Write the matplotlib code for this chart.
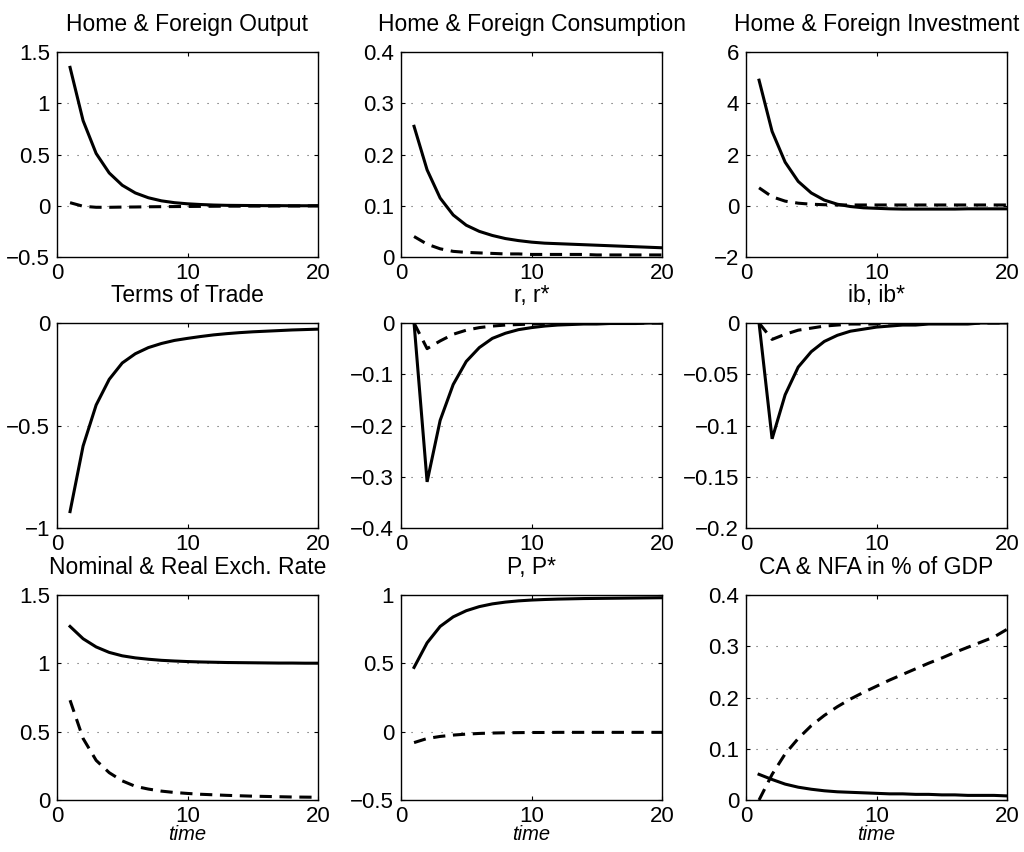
import matplotlib
matplotlib.use("Agg")
import matplotlib.pyplot as plt
import numpy as np

plt.rcParams['font.family'] = ['Liberation Sans', 'DejaVu Sans']

t = list(range(1, 21))

titles = ["Home & Foreign Output", "Home & Foreign Consumption", "Home & Foreign Investment",
          "Terms of Trade", "r, r*", "ib, ib*",
          "Nominal & Real Exch. Rate", "P, P*", "CA & NFA in % of GDP"]

output_home = [1.35, 0.83, 0.51, 0.32, 0.20, 0.125, 0.078, 0.048, 0.030, 0.019,
               0.012, 0.007, 0.004, 0.003, 0.002, 0.001, 0.001, 0.0, 0.0, 0.0]
output_foreign = [0.03, -0.005, -0.015, -0.015, -0.013, -0.012, -0.010, -0.009, -0.008, -0.007,
                  -0.006, -0.005, -0.004, -0.004, -0.003, -0.003, -0.002, -0.002, -0.002, -0.001]

cons_home = [0.255, 0.17, 0.115, 0.082, 0.062, 0.050, 0.042, 0.036, 0.032, 0.029,
             0.027, 0.026, 0.025, 0.024, 0.023, 0.022, 0.021, 0.020, 0.019, 0.018]
cons_foreign = [0.040, 0.025, 0.016, 0.011, 0.009, 0.008, 0.007, 0.006, 0.006, 0.005,
                0.005, 0.005, 0.005, 0.005, 0.004, 0.004, 0.004, 0.004, 0.004, 0.004]

inv_home = [4.9, 2.9, 1.7, 0.95, 0.5, 0.22, 0.06, -0.03, -0.08, -0.10,
            -0.12, -0.13, -0.13, -0.13, -0.13, -0.13, -0.12, -0.12, -0.12, -0.12]
inv_foreign = [0.70, 0.35, 0.18, 0.10, 0.06, 0.04, 0.03, 0.03, 0.03, 0.03,
               0.03, 0.03, 0.03, 0.03, 0.03, 0.03, 0.03, 0.03, 0.03, 0.03]

tot = [-0.92, -0.60, -0.40, -0.275, -0.195, -0.15, -0.12, -0.10, -0.085, -0.075,
       -0.066, -0.058, -0.052, -0.047, -0.043, -0.040, -0.037, -0.034, -0.032, -0.030]

r_home = [0.0, -0.31, -0.19, -0.12, -0.075, -0.048, -0.030, -0.020, -0.013, -0.009,
          -0.006, -0.004, -0.003, -0.002, -0.002, -0.001, -0.001, -0.001, 0.0, 0.0]
r_foreign = [0.0, -0.050, -0.035, -0.022, -0.014, -0.009, -0.006, -0.004, -0.003, -0.002,
             -0.001, -0.001, -0.001, 0.0, 0.0, 0.0, 0.0, 0.0, 0.0, 0.0]

ib_home = [0.0, -0.113, -0.070, -0.043, -0.028, -0.018, -0.012, -0.008, -0.006, -0.004,
           -0.003, -0.002, -0.002, -0.001, -0.001, -0.001, -0.001, 0.0, 0.0, 0.0]
ib_foreign = [0.0, -0.016, -0.011, -0.007, -0.005, -0.003, -0.002, -0.001, -0.001, -0.001,
              0.0, 0.0, 0.0, 0.0, 0.0, 0.0, 0.0, 0.0, 0.0, 0.0]

nom_exch = [1.27, 1.18, 1.12, 1.08, 1.055, 1.04, 1.03, 1.022, 1.017, 1.013,
            1.010, 1.008, 1.006, 1.005, 1.004, 1.003, 1.002, 1.002, 1.001, 1.001]
real_exch = [0.73, 0.45, 0.29, 0.20, 0.14, 0.10, 0.08, 0.065, 0.055, 0.048,
             0.042, 0.038, 0.034, 0.031, 0.028, 0.026, 0.024, 0.022, 0.021, 0.020]

p_home = [0.47, 0.65, 0.77, 0.84, 0.885, 0.915, 0.935, 0.948, 0.957, 0.963,
          0.967, 0.970, 0.972, 0.974, 0.975, 0.976, 0.977, 0.978, 0.979, 0.980]
p_foreign = [-0.08, -0.05, -0.035, -0.025, -0.018, -0.013, -0.010, -0.008, -0.007, -0.006,
             -0.006, -0.005, -0.005, -0.005, -0.005, -0.005, -0.005, -0.005, -0.005, -0.005]

ca = [0.050, 0.040, 0.031, 0.025, 0.021, 0.018, 0.016, 0.015, 0.014, 0.013,
      0.012, 0.012, 0.011, 0.011, 0.010, 0.010, 0.009, 0.009, 0.009, 0.008]
nfa = [0.0, 0.05, 0.09, 0.12, 0.145, 0.165, 0.182, 0.197, 0.210, 0.222,
       0.234, 0.245, 0.256, 0.267, 0.277, 0.288, 0.298, 0.308, 0.318, 0.333]

solid_series = [output_home, cons_home, inv_home, tot, r_home, ib_home, nom_exch, p_home, ca]
dashed_series = [output_foreign, cons_foreign, inv_foreign, None, r_foreign, ib_foreign, real_exch, p_foreign, nfa]

ylims = [(-0.5, 1.5), (0, 0.4), (-2, 6), (-1, 0), (-0.4, 0), (-0.2, 0), (0, 1.5), (-0.5, 1), (0, 0.4)]
yticks = [[-0.5, 0, 0.5, 1, 1.5], [0, 0.1, 0.2, 0.3, 0.4], [-2, 0, 2, 4, 6],
          [-1, -0.5, 0], [-0.4, -0.3, -0.2, -0.1, 0], [-0.2, -0.15, -0.1, -0.05, 0],
          [0, 0.5, 1, 1.5], [-0.5, 0, 0.5, 1], [0, 0.1, 0.2, 0.3, 0.4]]
ytlabels = [["\u22120.5", "0", "0.5", "1", "1.5"], ["0", "0.1", "0.2", "0.3", "0.4"],
            ["\u22122", "0", "2", "4", "6"], ["\u22121", "\u22120.5", "0"],
            ["\u22120.4", "\u22120.3", "\u22120.2", "\u22120.1", "0"],
            ["\u22120.2", "\u22120.15", "\u22120.1", "\u22120.05", "0"],
            ["0", "0.5", "1", "1.5"], ["\u22120.5", "0", "0.5", "1"], ["0", "0.1", "0.2", "0.3", "0.4"]]

fig = plt.figure(figsize=(10.24, 8.52), dpi=100)
lefts = [57 / 1024, 401 / 1024, 746 / 1024]
bottoms = [1 - 257 / 852, 1 - 528 / 852, 1 - 800 / 852]
w = 261 / 1024
h = 205 / 852
fs = 16.5
tfs = 16

for i in range(9):
    r, c = divmod(i, 3)
    ax = fig.add_axes([lefts[c], bottoms[r], w, h])
    ax.plot(t, solid_series[i], color='black', lw=2.2, solid_joinstyle='miter')
    if dashed_series[i] is not None:
        ax.plot(t, dashed_series[i], color='black', lw=2.2, ls=(0, (4, 2.5)))
    ax.set_xlim(0, 20)
    ax.set_ylim(*ylims[i])
    ax.set_xticks([0, 10, 20])
    ax.set_xticklabels(["0", "10", "20"], fontsize=tfs)
    ax.set_yticks(yticks[i])
    ax.set_yticklabels(ytlabels[i], fontsize=tfs)
    for yv in yticks[i][1:-1]:
        ax.axhline(yv, color='#555555', lw=0.8, ls=(0, (1, 8)), zorder=0)
    ax.tick_params(direction='in', top=True, right=True, length=3, width=0.8)
    ax.tick_params(axis='x', pad=4)
    ax.tick_params(axis='y', pad=5)
    for s in ax.spines.values():
        s.set_linewidth(1.0)
    ax.set_title(titles[i], fontsize=fs, pad=15)
    if r == 2:
        ax.set_xlabel("time", fontsize=fs - 2, style='italic', labelpad=-1)

fig.savefig("out.png", dpi=100)
